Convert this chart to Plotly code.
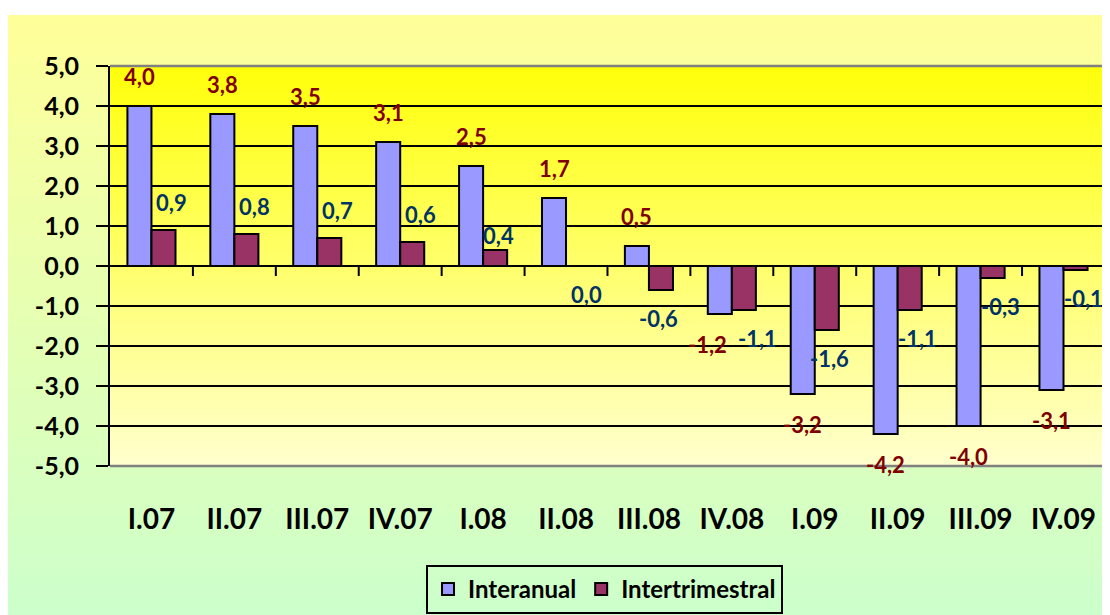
import plotly.graph_objects as go

categories = ["I.07", "II.07", "III.07", "IV.07", "I.08", "II.08",
              "III.08", "IV.08", "I.09", "II.09", "III.09", "IV.09"]
interanual = [4.0, 3.8, 3.5, 3.1, 2.5, 1.7, 0.5, -1.2, -3.2, -4.2, -4.0, -3.1]
intertrimestral = [0.9, 0.8, 0.7, 0.6, 0.4, 0.0, -0.6, -1.1, -1.6, -1.1, -0.3, -0.1]
y_ticks = [-5, -4, -3, -2, -1, 0, 1, 2, 3, 4, 5]

# small manual nudges of individual data labels (pixels), as in the original
label_nudges = {
    ("Interanual", "IV.08"): (-12, 0),
    ("Intertrimestral", "I.08"): (-5, -13),
    ("Intertrimestral", "III.08"): (-10, 0),
    ("Intertrimestral", "IV.08"): (6, 0),
    ("Intertrimestral", "I.09"): (-5, 0),
}

FONT = "Lato"
BODY = 8  # default page margin around the figure
W, H = 1110 - BODY, 615 - BODY
ML, MR, MT, MB = 110 - BODY, 5, 66 - BODY, 149
PW, PH = W - ML - MR, H - MT - MB


def px_to_paper_x(px):  # page pixel -> paper
    return (px - BODY - ML) / PW


def px_to_paper_y(py):
    return (H - MB - (py - BODY)) / PH


def lerp(c0, c1, t):
    return "rgb(%d,%d,%d)" % tuple(round(a + (b - a) * t) for a, b in zip(c0, c1))


def fmt(v):
    return ("%.1f" % v).replace(".", ",")


shapes = []
# outer chart-area gradient (yellow -> light green)
N = 60
top_px, bot_px = 15, 616
for i in range(N):
    y0 = top_px + (bot_px - top_px) * i / N
    y1 = top_px + (bot_px - top_px) * (i + 1) / N + 0.6
    shapes.append(dict(type="rect", xref="paper", yref="paper", layer="below",
                       x0=px_to_paper_x(7), x1=px_to_paper_x(1112),
                       y0=px_to_paper_y(y1), y1=px_to_paper_y(y0),
                       line=dict(width=0),
                       fillcolor=lerp((255, 255, 153), (204, 255, 204), (i + 0.5) / N)))
# plot-area gradient (bright yellow -> pale yellow)
M = 60
for i in range(M):
    shapes.append(dict(type="rect", xref="paper", yref="paper", layer="below",
                       x0=0, x1=1,
                       y0=1 - (i + 1) / M - 0.002, y1=1 - i / M,
                       line=dict(width=0),
                       fillcolor=lerp((255, 255, 10), (255, 255, 206), (i + 0.5) / M)))
# grey plot-area border (top, right, bottom)
grey = "rgb(128,128,128)"
for (x0, y0, x1, y1) in [(0, 1, 1, 1), (1, 0, 1, 1), (0, 0, 1, 0)]:
    shapes.append(dict(type="line", xref="paper", yref="paper", layer="above",
                       x0=x0, y0=y0, x1=x1, y1=y1, line=dict(color=grey, width=2.5)))
# category-boundary tick marks hanging from the zero line
for k in range(1, len(categories)):
    shapes.append(dict(type="line", xref="x", yref="y", ysizemode="pixel",
                       yanchor=0, x0=k - 0.5, x1=k - 0.5, y0=0, y1=-10,
                       line=dict(color="black", width=2), layer="above"))

fig = go.Figure()
fig.add_trace(go.Bar(name="Interanual", x=categories, y=interanual,
                     marker=dict(color="#9999FF", line=dict(color="black", width=2))))
fig.add_trace(go.Bar(name="Intertrimestral", x=categories, y=intertrimestral,
                     marker=dict(color="#993366", line=dict(color="black", width=2))))

annotations = []
for name, series, color, xs, ys in [("Interanual", interanual, "#800000", -12, 30),
                                    ("Intertrimestral", intertrimestral, "#003366", 20, 28)]:
    for c, v in zip(categories, series):
        dx, dy = label_nudges.get((name, c), (0, 0))
        annotations.append(dict(x=c, y=v, xref="x", yref="y", text=fmt(v),
                                showarrow=False, xshift=xs + dx,
                                yshift=(ys if v > 0 else -ys) + dy,
                                xanchor="center", yanchor="middle",
                                font=dict(family=FONT, size=22, color=color, weight="bold")))

fig.update_layout(
    width=W, height=H,
    margin=dict(l=ML, r=MR, t=MT, b=MB, autoexpand=False),
    paper_bgcolor="white",
    plot_bgcolor="rgba(0,0,0,0)",
    separators=",.",
    barmode="group",
    bargap=0.42,
    bargroupgap=0,
    shapes=shapes,
    annotations=annotations,
    showlegend=True,
    legend=dict(orientation="h", x=0.497, xanchor="center",
                y=px_to_paper_y(565), yanchor="top",
                bgcolor="rgba(0,0,0,0)", bordercolor="black", borderwidth=2,
                font=dict(family=FONT, size=24, color="black", weight="bold"),
                itemwidth=30, traceorder="normal"),
    xaxis=dict(type="category", categoryorder="array", categoryarray=categories,
               showgrid=False, showline=False, ticks="", zeroline=False,
               automargin=False,
               tickfont=dict(family=FONT, size=28, color="black", weight="bold"),
               ticklabelstandoff=34),
    yaxis=dict(range=[-5, 5], tickvals=y_ticks, ticktext=[fmt(v) for v in y_ticks],
               showgrid=True, gridcolor="black", gridwidth=2,
               zeroline=True, zerolinecolor="black", zerolinewidth=2,
               showline=True, linecolor="black", linewidth=2, automargin=False,
               ticks="outside", ticklen=12, tickwidth=2, tickcolor="black",
               tickfont=dict(family=FONT, size=25, color="black", weight="bold"),
               ticklabelstandoff=12),
)

fig.write_html("out.html")
